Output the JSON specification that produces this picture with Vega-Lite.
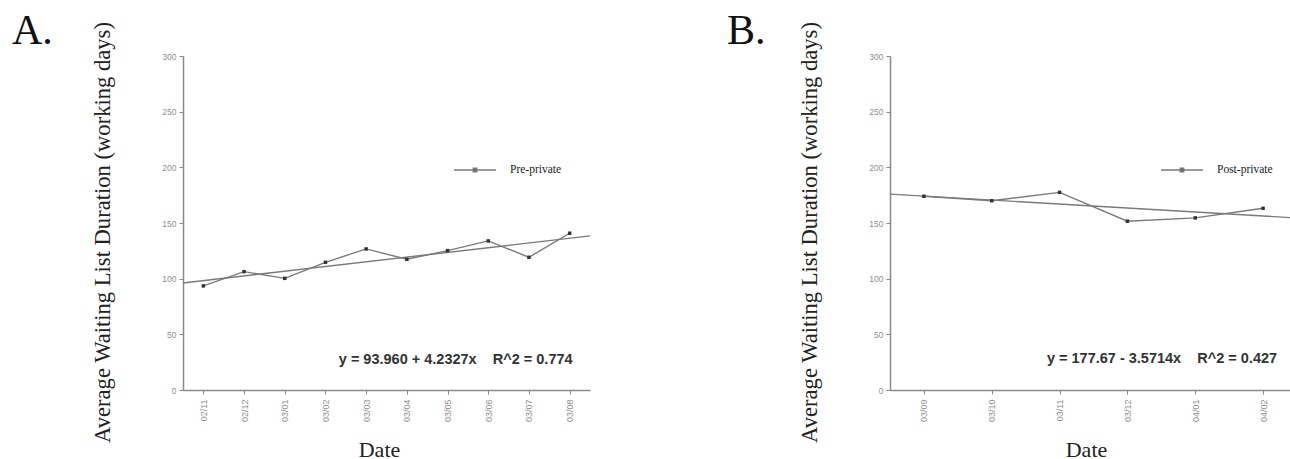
{
  "$schema": "https://vega.github.io/schema/vega-lite/v6.json",
  "background": "white",
  "padding": {"left": 12, "top": 10, "right": 0, "bottom": 0},
  "spacing": 134,
  "resolve": {"scale": {"color": "independent"}, "legend": {"color": "independent"}},
  "datasets": {
    "pre": [
      {"i": 1, "date": "02/11", "days": 93.5},
      {"i": 2, "date": "02/12", "days": 106.3},
      {"i": 3, "date": "03/01", "days": 100.3},
      {"i": 4, "date": "03/02", "days": 114.7},
      {"i": 5, "date": "03/03", "days": 126.7},
      {"i": 6, "date": "03/04", "days": 117.4},
      {"i": 7, "date": "03/05", "days": 125.2},
      {"i": 8, "date": "03/06", "days": 133.9},
      {"i": 9, "date": "03/07", "days": 119.2},
      {"i": 10, "date": "03/08", "days": 140.8}
    ],
    "preFit": [
      {"i": 0.5, "days": 96.1},
      {"i": 10.5, "days": 138.4}
    ],
    "post": [
      {"i": 1, "date": "03/09", "days": 174.0},
      {"i": 2, "date": "03/10", "days": 170.0},
      {"i": 3, "date": "03/11", "days": 177.5},
      {"i": 4, "date": "03/12", "days": 151.6},
      {"i": 5, "date": "04/01", "days": 154.6},
      {"i": 6, "date": "04/02", "days": 163.2}
    ],
    "postFit": [
      {"i": 0.5, "days": 175.9},
      {"i": 6.5, "days": 154.5}
    ],
    "eqA": [{"label": "y = 93.960 + 4.2327x\u00a0\u00a0\u00a0\u00a0R^2 = 0.774"}],
    "eqB": [{"label": "y = 177.67 - 3.5714x\u00a0\u00a0\u00a0\u00a0R^2 = 0.427"}]
  },
  "config": {
    "view": {"stroke": null},
    "font": "Liberation Sans",
    "axis": {
      "grid": false,
      "domainColor": "#8a8a8a",
      "domainWidth": 1.5,
      "tickColor": "#8a8a8a",
      "tickWidth": 1,
      "labelColor": "#8f8f8f",
      "labelFont": "Liberation Sans",
      "labelFontSize": 8.5,
      "titleFont": "Liberation Serif",
      "titleFontWeight": "normal",
      "titleColor": "#222222"
    },
    "legend": {
      "orient": "none",
      "padding": 0,
      "title": null,
      "symbolType": "M-1,0H1M-0.08,-0.08H0.08V0.08H-0.08Z",
      "symbolSize": 1764,
      "symbolStrokeWidth": 1.5,
      "symbolStrokeColor": "#9a9a9a",
      "symbolFillColor": "#333333",
      "labelFont": "Liberation Serif",
      "labelFontSize": 11.5,
      "labelColor": "#222222",
      "labelOffset": 13
    }
  },
  "hconcat": [
    {
      "width": 407,
      "height": 334,
      "title": {"text": "A.", "anchor": "start", "frame": "group", "font": "Liberation Serif", "fontSize": 42, "fontWeight": "normal", "color": "#111111", "baseline": "alphabetic", "offset": 0, "dx": -171, "dy": 65},
      "layer": [
        {
          "data": {"name": "preFit"},
          "mark": {"type": "line", "color": "#7a7a7a", "strokeWidth": 1.4},
          "encoding": {
            "x": {
              "field": "i", "type": "quantitative",
              "scale": {"domain": [0.5, 10.5], "nice": false, "zero": false},
              "axis": {
                "values": [1, 1.5, 2, 2.5, 3, 3.5, 4, 4.5, 5, 5.5, 6, 6.5, 7, 7.5, 8, 8.5, 9, 9.5, 10, 10.5],
                "labelExpr": "datum.value % 1 === 0 ? ['02/11','02/12','03/01','03/02','03/03','03/04','03/05','03/06','03/07','03/08'][datum.value - 1] : ''",
                "labelAngle": 270,
                "labelPadding": 5,
                "labelFontSize": 9,
                "tickSize": {"condition": {"test": "datum.value % 1 === 0", "value": 4}, "value": 2},
                "title": "Date",
                "titleFontSize": 22,
                "titleX": 196,
                "titleY": 66,
                "titleAlign": "center",
                "titleBaseline": "alphabetic"
              }
            },
            "y": {
              "field": "days", "type": "quantitative",
              "scale": {"domain": [0, 300], "nice": false},
              "axis": {
                "values": [0, 25, 50, 75, 100, 125, 150, 175, 200, 225, 250, 275, 300],
                "labelExpr": "datum.value % 50 === 0 ? datum.label : ''",
                "tickSize": {"condition": {"test": "datum.value % 50 === 0", "value": 4}, "value": 2},
                "labelPadding": 3,
                "title": "Average Waiting List Duration (working days)",
                "titleFontSize": 22.6,
                "titleAngle": 270,
                "titleX": -81,
                "titleY": 176,
                "titleAlign": "center",
                "titleBaseline": "middle"
              }
            }
          }
        },
        {
          "data": {"name": "pre"},
          "mark": {"type": "line", "strokeWidth": 1.4},
          "encoding": {
            "x": {"field": "i", "type": "quantitative"},
            "y": {"field": "days", "type": "quantitative"},
            "color": {"datum": "Pre-private", "scale": {"range": ["#7a7a7a"]}, "legend": {"legendX": 270, "legendY": 92}}
          }
        },
        {
          "data": {"name": "pre"},
          "mark": {"type": "point", "shape": "square", "filled": true, "color": "#333333", "size": 12, "opacity": 1},
          "encoding": {
            "x": {"field": "i", "type": "quantitative"},
            "y": {"field": "days", "type": "quantitative"}
          }
        },
        {
          "data": {"name": "eqA"},
          "mark": {"type": "text", "font": "Liberation Sans", "fontWeight": "bold", "fontSize": 14.5, "color": "#333333", "align": "center", "baseline": "alphabetic"},
          "encoding": {
            "x": {"datum": 7.2},
            "y": {"datum": 23.4},
            "text": {"field": "label", "type": "nominal"}
          }
        }
      ]
    },
    {
      "width": 407,
      "height": 334,
      "title": {"text": "B.", "anchor": "start", "frame": "group", "font": "Liberation Serif", "fontSize": 42, "fontWeight": "normal", "color": "#111111", "baseline": "alphabetic", "offset": 0, "dx": -163, "dy": 65},
      "layer": [
        {
          "data": {"name": "postFit"},
          "mark": {"type": "line", "color": "#7a7a7a", "strokeWidth": 1.4},
          "encoding": {
            "x": {
              "field": "i", "type": "quantitative",
              "scale": {"domain": [0.5, 6.5], "nice": false, "zero": false},
              "axis": {
                "values": [1, 1.5, 2, 2.5, 3, 3.5, 4, 4.5, 5, 5.5, 6, 6.5],
                "labelExpr": "datum.value % 1 === 0 ? ['03/09','03/10','03/11','03/12','04/01','04/02'][datum.value - 1] : ''",
                "labelAngle": 270,
                "labelPadding": 5,
                "labelFontSize": 9,
                "tickSize": {"condition": {"test": "datum.value % 1 === 0", "value": 4}, "value": 2},
                "title": "Date",
                "titleFontSize": 22,
                "titleX": 196,
                "titleY": 66,
                "titleAlign": "center",
                "titleBaseline": "alphabetic"
              }
            },
            "y": {
              "field": "days", "type": "quantitative",
              "scale": {"domain": [0, 300], "nice": false},
              "axis": {
                "values": [0, 25, 50, 75, 100, 125, 150, 175, 200, 225, 250, 275, 300],
                "labelExpr": "datum.value % 50 === 0 ? datum.label : ''",
                "tickSize": {"condition": {"test": "datum.value % 50 === 0", "value": 4}, "value": 2},
                "labelPadding": 3,
                "title": "Average Waiting List Duration (working days)",
                "titleFontSize": 22.6,
                "titleAngle": 270,
                "titleX": -81,
                "titleY": 176,
                "titleAlign": "center",
                "titleBaseline": "middle"
              }
            }
          }
        },
        {
          "data": {"name": "post"},
          "mark": {"type": "line", "strokeWidth": 1.4},
          "encoding": {
            "x": {"field": "i", "type": "quantitative"},
            "y": {"field": "days", "type": "quantitative"},
            "color": {"datum": "Post-private", "scale": {"range": ["#7a7a7a"]}, "legend": {"legendX": 270, "legendY": 92}}
          }
        },
        {
          "data": {"name": "post"},
          "mark": {"type": "point", "shape": "square", "filled": true, "color": "#333333", "size": 12, "opacity": 1},
          "encoding": {
            "x": {"field": "i", "type": "quantitative"},
            "y": {"field": "days", "type": "quantitative"}
          }
        },
        {
          "data": {"name": "eqB"},
          "mark": {"type": "text", "font": "Liberation Sans", "fontWeight": "bold", "fontSize": 14.5, "color": "#333333", "align": "center", "baseline": "alphabetic"},
          "encoding": {
            "x": {"datum": 4.51},
            "y": {"datum": 24},
            "text": {"field": "label", "type": "nominal"}
          }
        }
      ]
    }
  ]
}
